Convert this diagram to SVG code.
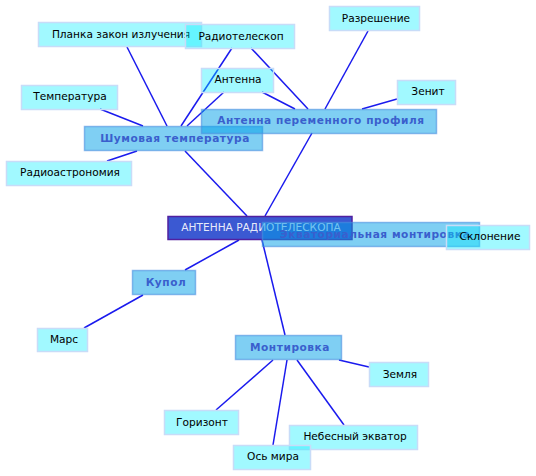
<svg xmlns="http://www.w3.org/2000/svg" width="536" height="476" viewBox="0 0 536 476">
<style>
.e{stroke:#1a1aee;stroke-width:1.5;fill:none}
.l rect{fill:#00eeff;fill-opacity:0.37;stroke:#c8dcf8;stroke-width:1.5}
.l text{font-family:"DejaVu Sans",sans-serif;font-size:10.6px;fill:#000;text-anchor:middle}
.m rect{fill:#00a0e8;fill-opacity:0.5;stroke:#4a90e0;stroke-opacity:0.6;stroke-width:1.5}
.m text{font-family:"DejaVu Sans",sans-serif;font-size:10.6px;font-weight:bold;letter-spacing:0.55px;fill:#3a5fcd;text-anchor:middle}
.r rect{fill:#3050d0;fill-opacity:0.95;stroke:#5020a0;stroke-width:1.5}
.r text{font-family:"DejaVu Sans",sans-serif;font-size:10.6px;fill:#fff;fill-opacity:0.9;text-anchor:middle}
</style>
<g id="connectors">
<line class="e" x1="247" y1="216" x2="185" y2="151"/>
<line class="e" x1="265" y1="216" x2="312" y2="133"/>
<line class="e" x1="239" y1="240" x2="185" y2="270"/>
<line class="e" x1="262" y1="240" x2="285" y2="335"/>
<line class="e" x1="167" y1="126" x2="127" y2="47"/>
<line class="e" x1="181" y1="126" x2="232" y2="48"/>
<line class="e" x1="187" y1="126" x2="224" y2="92"/>
<line class="e" x1="143" y1="126" x2="100" y2="109"/>
<line class="e" x1="137" y1="151" x2="107" y2="161"/>
<line class="e" x1="308" y1="109" x2="251" y2="48"/>
<line class="e" x1="295" y1="109" x2="262" y2="92"/>
<line class="e" x1="325" y1="109" x2="368" y2="31"/>
<line class="e" x1="362" y1="109" x2="397" y2="99"/>
<line class="e" x1="143" y1="295" x2="84" y2="328"/>
<line class="e" x1="273" y1="360" x2="216" y2="410"/>
<line class="e" x1="287" y1="360" x2="273" y2="445"/>
<line class="e" x1="297" y1="360" x2="344" y2="425"/>
<line class="e" x1="339" y1="360" x2="369" y2="367"/>
</g>
<g id="n-planck" class="l"><rect x="38.5" y="22.5" width="163" height="24"/><text x="121" y="38">Планка закон излучения</text></g>
<g id="n-radiotel" class="l"><rect x="185.5" y="24.5" width="109" height="24"/><text x="241" y="40">Радиотелескоп</text></g>
<g id="n-antenna" class="l"><rect x="201.5" y="68.5" width="72" height="24"/><text x="238" y="83">Антенна</text></g>
<g id="n-temp" class="l"><rect x="21.5" y="85.5" width="96" height="24"/><text x="70" y="100">Температура</text></g>
<g id="n-radioastr" class="l"><rect x="6.5" y="161.5" width="125" height="24"/><text x="70" y="176">Радиоастрономия</text></g>
<g id="n-razr" class="l"><rect x="329.5" y="6.5" width="90" height="24"/><text x="376" y="22">Разрешение</text></g>
<g id="n-zenit" class="l"><rect x="397.5" y="80.5" width="58" height="24"/><text x="428" y="95">Зенит</text></g>
<g id="n-noise" class="m"><rect x="84.5" y="126.5" width="178" height="24"/><text x="175" y="142">Шумовая температура</text></g>
<g id="n-app" class="m"><rect x="201.5" y="109.5" width="235" height="24"/><text x="321" y="124">Антенна переменного профиля</text></g>
<g id="n-root" class="r"><rect x="168" y="216.5" width="184" height="23"/><text x="261" y="231">АНТЕННА РАДИОТЕЛЕСКОПА</text></g>
<g id="n-equat" class="m"><rect x="262.5" y="222.5" width="217" height="24"/><text x="375" y="238">Экваториальная монтировка</text></g>
<g id="n-sklon" class="l"><rect x="446.5" y="225.5" width="83" height="24"/><text x="490" y="240">Склонение</text></g>
<g id="n-kupol" class="m"><rect x="132.5" y="270.5" width="63" height="24"/><text x="166" y="286">Купол</text></g>
<g id="n-mars" class="l"><rect x="37.5" y="328.5" width="50" height="23"/><text x="64" y="343">Марс</text></g>
<g id="n-mont" class="m"><rect x="235.5" y="335.5" width="106" height="24"/><text x="290" y="351">Монтировка</text></g>
<g id="n-zemlya" class="l"><rect x="369.5" y="362.5" width="59" height="24"/><text x="400" y="378">Земля</text></g>
<g id="n-gorizont" class="l"><rect x="164.5" y="410.5" width="74" height="24"/><text x="202" y="426">Горизонт</text></g>
<g id="n-nebes" class="l"><rect x="289.5" y="425.5" width="128" height="24"/><text x="355" y="440">Небесный экватор</text></g>
<g id="n-os" class="l"><rect x="233.5" y="445.5" width="77" height="24"/><text x="273" y="460">Ось мира</text></g>
</svg>
